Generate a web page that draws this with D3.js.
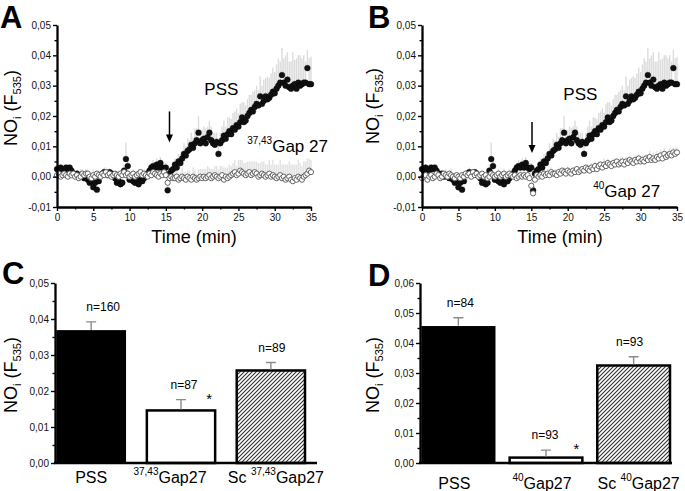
<!DOCTYPE html>
<html><head><meta charset="utf-8">
<script src="https://cdn.jsdelivr.net/npm/d3@7"></script>
<style>body{margin:0;background:#fff}svg{display:block;font-family:"Liberation Sans",Arial,Helvetica,sans-serif}</style>
</head><body><svg id="c" width="685" height="491"></svg>
<script>
// ---------- DATA (traces in units of 0.001 F535, sampled every 0.25 min) ----------
const sampleStep = 0.25;
const timeTicks = [0,5,10,15,20,25,30,35];
const timeMinorTicks = [2.5,7.5,12.5,17.5,22.5,27.5,32.5];
const traceYTicks = [-10,0,10,20,30,40,50];
const traceYMinorTicks = [-5,5,15,25,35,45];

const pss = [2.5,2,3,2.5,2,3,2.5,3,2,
 1,0.5,1,0,0.5,0,-0.5,0,
 -1,-2,-1.5,-3.5,-2,-4.3,-1.5,0.5,
 1,1.5,1,0.5,1.5,1,0.5,-0.5,
 -2,-1.5,-2.5,-2,2,5.8,3.5,-1,
 -1,-1.5,-2,-1,-2.5,-1,-1.5,-0.5,
 0.5,1,2,3,3.5,3,4,3,
 4.5,3,2.5,3,-4.5,1,2,2.5,
 4,3,5,4.5,6,7.5,7,8.5,
 9,10.5,9.5,11,12,14.5,11,12,
 12.5,11,13,14.5,12,11,10.5,11.5,
 7.5,11,12,13.5,12.5,14,15,14,
 16,15.5,17,16.5,18,19.5,18,18.5,
 20,21,22,21.5,23,24,23.5,26.5,
 24,25,26.5,25.5,26,27,28,27.5,
 29,30,31,33.5,31,30,32,29.5,
 29,30,30.5,29,31,30,30.5,31,
 31,35.8,30.5,30.5];
const pssErr = [1,1.5,1,1,2,1,1.5,1,1,
 1,1.5,1,1,2,1,1.5,2.5,
 1.5,2,1,2,1.5,1,2,1,
 1,1.5,1,2,1,1,1.5,1,
 1.5,1,2,1,2,5.5,3,1.5,
 1,2,1.5,1,2,1,1.5,1,
 1.5,1,2,1.5,2,1.5,2,1.5,
 2,1.5,2,1.5,3,2,1.5,2,
 2,3,2.5,3,2,3.5,3,4,
 3,4,3.5,5,4,5.5,4,3.5,
 4,5,3.5,4,4.5,3.5,4,3,
 4,3.5,4.5,5,4,5.5,4.5,5,
 5,6,5.5,4.5,6,5,6.5,5,
 5.5,6,5,6.5,5.5,6,5,6.5,
 6,7,6,7.5,6.5,7,8,7,
 8,9,7,9,8,10,9,8.5,
 9,11,8,10,9,10,8.5,9,
 7,6,8.5,9];
const gapA = [0.5,1,0,0.5,1,0.5,0,1,0.5,
 1,0,0.5,-0.5,0,1,0.5,1,
 1,0,-0.5,0.5,0,1,0.5,0,
 1,0.5,1.5,0.5,1,0,0.5,1,
 0.5,0,1,0.5,1.5,0.5,1,0,
 0.5,1,0,0.5,1,1.5,0.5,1,
 0.5,0,1,0.5,1.5,1,0.5,0,
 1,0.5,1.5,0.5,-2,-0.5,0,-0.5,
 -0.5,0,-1,-0.5,0,-0.5,-1,0,
 -0.5,-1,0,-0.5,-1,-0.5,0,-0.5,
 0,-0.5,0,0.5,-0.5,0,0.5,0,
 -0.5,0,0.5,-1,0,-0.5,0,0.5,
 1,1.5,0.5,1,2,1.5,1,0.5,
 1,1.5,0.5,1,1.5,1,0,0.5,
 1,0.5,0,0.5,1,0,0.5,0,
 -0.5,0,0.5,-0.5,0,-1,-0.5,0,
 -1,-1.5,-0.5,-1,0,-0.5,-1,0,
 0.5,1,2,1.5];
const gapAErr = [1,1,1.5,1,1,1,1.5,1,1,
 1,1.5,1,1,1,1.5,1,1,
 1.5,1,1,2,1,1,1.5,1,
 1,1,1.5,1,1,1,1.5,1,
 1,1.5,1,2,1.5,2,1.5,1,
 1,1.5,1,1,1.5,1,1,1.5,
 1.5,1,2,1.5,1,1.5,2,1.5,
 2,1.5,2,1.5,2,1.5,2,2,
 2,2.5,2,2,3,2,2.5,2,
 2.5,2,3,2.5,2,3,2.5,3,
 2.5,3,3.5,2.5,3,2.5,3,3.5,
 3,3.5,3,4,3,3.5,4,3,
 3.5,4,3,4.5,3.5,4,3.5,4,
 4,3.5,4.5,4,3.5,4,4.5,4,
 4,4.5,4,3.5,4.5,4,5,4,
 4.5,4,5,4.5,4,5,4.5,5,
 5,5.5,4.5,5,5.5,5,4.5,5,
 4.5,5,4,4];
const gapB = [-0.5,0,0.5,-1,0,0.5,-0.5,0,1,
 0.5,-0.5,0,1,0.5,0,1,0.5,
 0,-0.5,0.5,0,-0.5,0.5,0,1,
 0.5,1,0,1.5,0.5,1,0,0.5,
 1,0,0.5,-0.5,0,1,0.5,0,
 0.5,1,0,0.5,1,0,0.5,1,
 0.5,0,0.5,-0.5,0,0.5,0,0.5,
 0,0.5,-0.5,-3,-5.5,-1,0.5,0,
 0.5,0,1,0.5,1,0.5,1.5,1,
 1,0.5,1.5,1,2,1.5,1,2,
 1.5,1,2,1.5,2.5,1.5,2,2.5,
 2,3,2.5,2,3,2.5,3.5,2.5,
 3.5,4,3,4,3.5,4.5,4,3.5,
 4.5,4,5,4,4.5,5,4,5,
 4.5,5.5,5,4.5,5.5,5,6,5,
 5.5,5,6,5.5,6.5,5.5,6,5.5,
 6.5,6,7,6,7.5,6.5,7,7.5,
 7,8,7.5,8];
const gapBErr = [1,1,1.5,1,1,1,1.5,1,1,
 1,1.5,1,1,1,1.5,1,1,
 1,1,1,1.5,1,1,1.5,1,
 1,1,1.5,1,1,1,1.5,1,
 1,1.5,1,1.5,1,1,1.5,1,
 1,1.5,1,1,1.5,1,1,1.5,
 1.5,1,1.5,1,1,1.5,1,1.5,
 1,1.5,1,1.5,1,1.5,1,1,
 1,1.5,1,1,1.5,1,1.5,1,
 1.5,1,1.5,1,1,1.5,1,1.5,
 1,1.5,1,1.5,1,1,1.5,1,
 1.5,1,1.5,1,1.5,1,1.5,1,
 1.5,1,1.5,2,1,1.5,1,1.5,
 1.5,2,1,1.5,2,1.5,1,1.5,
 2,1.5,1,2,1.5,2,1.5,1,
 1.5,2,1.5,1,2,1.5,2,1.5,
 2,1.5,2,1.5,2,2,1.5,2,
 2,1.5,2,1.5];

// bar panels
const barCategories = ["PSS","Gap27","ScGap27"];
const labelPartsC = [["PSS","",""],["","37,43","Gap27"],["Sc ","37,43","Gap27"]];
const labelPartsD = [["PSS","",""],["","40","Gap27"],["Sc ","40","Gap27"]];
const barValuesC = [0.0367,0.0146,0.0257];
const barErrC = [0.0025,0.0030,0.0022];
const nLabelsC = ["n=160","n=87","n=89"];
const barValuesD = [0.0454,0.0018,0.0325];
const barErrD = [0.0030,0.0025,0.0029];
const nLabelsD = ["n=84","n=93","n=93"];
const barYTicksC = [0,0.01,0.02,0.03,0.04,0.05];
const barYMinorC = [0.005,0.015,0.025,0.035,0.045];
const barYTicksD = [0,0.01,0.02,0.03,0.04,0.05,0.06];
const barYMinorD = [0.005,0.015,0.025,0.035,0.045,0.055];

// ---------- DRAWING ----------
const svg = d3.select("#c");
const defs = svg.append("defs");
const pat = defs.append("pattern").attr("id","hatch").attr("patternUnits","userSpaceOnUse")
  .attr("width",4).attr("height",4);
pat.append("rect").attr("width",4).attr("height",4).attr("fill","#fff");
pat.append("path").attr("d","M-1,1 l2,-2 M0,4 l4,-4 M3,5 l2,-2").attr("stroke","#333").attr("stroke-width",1.1);

const commaFmt = d => d.toFixed(2).replace(".", ",");

function styleAxis(sel, dw) {
  sel.select(".domain").attr("stroke","#000").attr("stroke-width",dw);
  sel.selectAll(".tick line").attr("stroke","#000").attr("stroke-width",1.4);
  sel.selectAll(".tick text").attr("font-size",10).attr("fill","#111")
     .attr("font-family",'"Liberation Sans",Arial,sans-serif');
}

function yLabel(x, y) {
  const t = svg.append("text").attr("transform",`translate(${x},${y}) rotate(-90)`)
    .attr("text-anchor","middle").attr("font-size",18).attr("fill","#000");
  t.append("tspan").text("NO");
  t.append("tspan").attr("font-size",11).attr("dy",4).text("i");
  t.append("tspan").attr("dy",-4).text(" (F");
  t.append("tspan").attr("font-size",11).attr("dy",4).text("535");
  t.append("tspan").attr("dy",-4).text(")");
}

function panelLetter(txt, x, y) {
  svg.append("text").attr("x",x).attr("y",y).attr("font-size",31).attr("font-weight","bold")
    .attr("fill","#000").text(txt);
}

function tracePanel(o) {
  const x = d3.scaleLinear().domain([0,35]).range([o.x0,o.x1]);
  const y = d3.scaleLinear().domain([-10,50]).range([207,25]);
  const g = svg.append("g");
  const tx = (d,i) => x(i*sampleStep);
  // error bars
  g.append("g").selectAll("line").data(o.gap).join("line")
    .attr("x1",tx).attr("x2",tx).attr("y1",d=>y(d)).attr("y2",(d,i)=>y(d+o.gapErr[i]))
    .attr("stroke","#e2e2e2").attr("stroke-width",1.4);
  g.append("g").selectAll("line").data(o.pss).join("line")
    .attr("x1",tx).attr("x2",tx).attr("y1",d=>y(d)).attr("y2",(d,i)=>y(d+o.pssErr[i]))
    .attr("stroke","#dcdcdc").attr("stroke-width",1.4);
  // points
  g.append("g").selectAll("circle").data(o.pss).join("circle")
    .attr("cx",tx).attr("cy",d=>y(d)).attr("r",2.9).attr("fill","#111").attr("stroke","#000").attr("stroke-width",0.4);
  g.append("g").selectAll("circle").data(o.gap).join("circle")
    .attr("cx",tx).attr("cy",d=>y(d)).attr("r",2.6).attr("fill","#fff").attr("stroke","#555").attr("stroke-width",0.9);
  // axes
  const ya = g.append("g").attr("transform",`translate(${o.x0},0)`)
    .call(d3.axisLeft(y).tickValues(traceYTicks).tickSize(4).tickSizeOuter(0).tickPadding(2)
      .tickFormat(d => (d/1000).toFixed(2).replace(".", ",")));
  styleAxis(ya, 2.3);
  const ym = g.append("g").attr("transform",`translate(${o.x0},0)`)
    .call(d3.axisLeft(y).tickValues(traceYMinorTicks).tickSize(2.5).tickFormat(""));
  styleAxis(ym, 0); ym.select(".domain").remove();
  const xa = g.append("g").attr("transform",`translate(0,207)`)
    .call(d3.axisBottom(x).tickValues(timeTicks).tickSize(4).tickSizeOuter(0).tickPadding(3));
  styleAxis(xa, 2.3);
  const xm = g.append("g").attr("transform",`translate(0,207)`)
    .call(d3.axisBottom(x).tickValues(timeMinorTicks).tickSize(2.5).tickFormat(""));
  styleAxis(xm, 0); xm.select(".domain").remove();
  // arrow
  g.append("path").attr("d",`M${x(o.arrow.t)},${y(o.arrow.from)}V${y(o.arrow.to)-6}`)
    .attr("stroke","#000").attr("stroke-width",1.5);
  g.append("path").attr("d",`M${x(o.arrow.t)-3.5},${y(o.arrow.to)-8}L${x(o.arrow.t)+3.5},${y(o.arrow.to)-8}L${x(o.arrow.t)},${y(o.arrow.to)}Z`)
    .attr("fill","#000");
  // labels
  g.append("text").attr("x",x(o.pssLab[0])).attr("y",y(o.pssLab[1])).attr("font-size",17).text("PSS");
  const gl = g.append("text").attr("x",x(o.gapLab[0])).attr("y",y(o.gapLab[1])).attr("font-size",17);
  gl.append("tspan").attr("font-size",10).attr("dy",-8).text(o.gapSup);
  gl.append("tspan").attr("dy",8).text("Gap 27");
  g.append("text").attr("x",o.timeX).attr("y",243).attr("text-anchor","middle").attr("font-size",18).text("Time (min)");
}

function barPanel(o) {
  const y = d3.scaleLinear().domain([0,o.max]).range([463,283]);
  const x = d3.scaleBand().domain(barCategories).range([o.b0,o.b1]).paddingInner(o.pad).paddingOuter(0);
  const g = svg.append("g");
  const fills = ["#000","#fff","url(#hatch)"];
  g.selectAll("rect").data(o.values).join("rect")
    .attr("x",(d,i)=>x(barCategories[i])).attr("width",x.bandwidth())
    .attr("y",d=>y(d)).attr("height",d=>463-y(d))
    .attr("fill",(d,i)=>fills[i]).attr("stroke","#000").attr("stroke-width",(d,i)=>i===0?1.5:2.5);
  // error bars
  const cx = i => x(barCategories[i]) + x.bandwidth()/2;
  g.append("g").selectAll("path").data(o.values).join("path")
    .attr("d",(d,i)=>`M${cx(i)},${y(d)-1}V${y(d+o.errs[i])}M${cx(i)-5},${y(d+o.errs[i])}h10`)
    .attr("stroke","#8c8c8c").attr("stroke-width",1.4).attr("fill","none");
  // n labels
  g.append("g").selectAll("text").data(o.values).join("text")
    .attr("x",(d,i)=>cx(i)+o.nShift[i]).attr("y",(d,i)=>y(d+o.errs[i])-o.nGap)
    .attr("text-anchor","middle").attr("font-size",12).text((d,i)=>o.nLabels[i]);
  // star
  g.append("text").attr("x",x(barCategories[1])+x.bandwidth()-6).attr("y",y(o.values[1])+o.starDy)
    .attr("font-size",15).attr("text-anchor","middle").text("*");
  // y axis
  const ya = g.append("g").attr("transform",`translate(${o.x0},0)`)
    .call(d3.axisLeft(y).tickValues(o.ticks).tickSize(4).tickSizeOuter(0).tickPadding(2).tickFormat(commaFmt));
  styleAxis(ya, 2.3);
  const ym = g.append("g").attr("transform",`translate(${o.x0},0)`)
    .call(d3.axisLeft(y).tickValues(o.minor).tickSize(2.5).tickFormat(""));
  styleAxis(ym, 0); ym.select(".domain").remove();
  g.append("line").attr("x1",o.x0-1).attr("x2",o.x1).attr("y1",463).attr("y2",463)
    .attr("stroke","#000").attr("stroke-width",2.5);
  // category labels
  o.parts.forEach((p,i) => {
    const t = g.append("text").attr("x",cx(i)+o.labShift[i]).attr("y",o.labY)
      .attr("text-anchor","middle").attr("font-size",16);
    t.append("tspan").text(p[0]);
    if (p[1]) {
      t.append("tspan").attr("font-size",10).attr("dy",-8).text(p[1]);
      t.append("tspan").attr("dy",8).text(p[2]);
    }
  });
}

tracePanel({x0:57,x1:311,pss:pss,pssErr:pssErr,gap:gapA,gapErr:gapAErr,
  arrow:{t:15.5,from:21.5,to:11.3},pssLab:[20.3,27],gapLab:[26.2,8],gapSup:"37,43",timeX:194});
tracePanel({x0:422,x1:677,pss:pss,pssErr:pssErr,gap:gapB,gapErr:gapBErr,
  arrow:{t:15.1,from:18,to:7.8},pssLab:[19.4,25.3],gapLab:[23.5,-6.7],gapSup:"40",timeX:560});
barPanel({x0:55,x1:317,b0:57,b1:305,pad:0.24,max:0.05,ticks:barYTicksC,minor:barYMinorC,
  values:barValuesC,errs:barErrC,nLabels:nLabelsC,nShift:[12,3,1],nGap:11,starDy:-6,
  parts:labelPartsC,labShift:[0,-11,5],labY:483});
barPanel({x0:420,x1:672,b0:422,b1:670,pad:0.17,max:0.06,ticks:barYTicksD,minor:barYMinorD,
  values:barValuesD,errs:barErrD,nLabels:nLabelsD,nShift:[2,-1,-4],nGap:11,starDy:-4,
  parts:labelPartsD,labShift:[-4,-4,5],labY:489});

yLabel(17,108); yLabel(379,106); yLabel(17,375); yLabel(379,375);
panelLetter("A",0,28); panelLetter("B",368,28); panelLetter("C",2,284); panelLetter("D",368,286);
</script></body></html>
